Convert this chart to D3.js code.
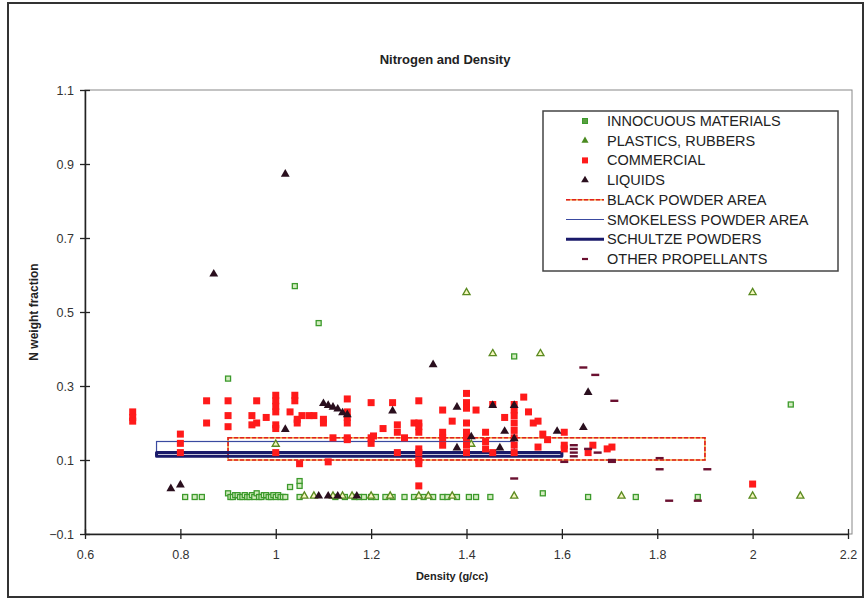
<!DOCTYPE html>
<html>
<head>
<meta charset="utf-8">
<script src="https://cdn.jsdelivr.net/npm/d3@7"></script>
<style>
  body { margin: 0; background: #fff; }
  svg { font-family: "Liberation Sans", Arial, sans-serif; }
</style>
</head>
<body>
<svg id="chart" width="868" height="601"></svg>
<script>
// ---- data ----
const xTicks = [0.6, 0.8, 1.0, 1.2, 1.4, 1.6, 1.8, 2.0, 2.2];
const yTicks = [-0.1, 0.1, 0.3, 0.5, 0.7, 0.9, 1.1];

const innocuous = [
  [0.81, 0], [0.83, 0], [0.845, 0], [0.9, 0.32], [0.9, 0.01], [0.905, 0], [0.91, 0], [0.915, 0.005],
  [0.92, 0.005], [0.925, 0], [0.93, 0], [0.935, 0.005], [0.94, 0], [0.945, 0], [0.95, 0.005],
  [0.955, 0], [0.96, 0.01], [0.965, 0], [0.97, 0], [0.975, 0.005], [0.98, 0.005], [0.985, 0],
  [0.99, 0], [0.995, 0.005], [1.0, 0], [1.005, 0.005], [1.01, 0], [1.015, 0], [1.02, 0],
  [1.03, 0.027], [1.05, 0.043], [1.05, 0.03], [1.04, 0.57], [1.09, 0.47], [1.05, 0],
  [1.125, 0], [1.145, 0], [1.165, 0], [1.175, 0], [1.185, 0], [1.2, 0], [1.21, 0], [1.23, 0],
  [1.245, 0], [1.27, 0], [1.29, 0], [1.31, 0], [1.33, 0], [1.35, 0], [1.36, 0], [1.38, 0],
  [1.405, 0], [1.42, 0], [1.45, 0], [1.5, 0.38], [1.56, 0.01], [1.655, 0], [1.755, 0],
  [1.885, 0], [2.08, 0.25]
];

const plastics = [
  [1.0, 0.14], [1.41, 0.14], [1.4, 0.55], [2.0, 0.55], [1.455, 0.385], [1.555, 0.385],
  [1.06, 0], [1.08, 0], [1.12, 0], [1.14, 0], [1.16, 0], [1.2, 0], [1.24, 0], [1.3, 0],
  [1.32, 0], [1.37, 0], [1.5, 0], [1.725, 0], [2.0, 0], [2.1, 0]
];

const commercial = [
  [0.7, 0.23], [0.7, 0.215], [0.7, 0.205],
  [0.8, 0.17], [0.8, 0.145], [0.8, 0.12],
  [0.855, 0.26], [0.855, 0.2],
  [0.9, 0.26], [0.9, 0.22], [0.9, 0.19],
  [0.95, 0.22], [0.95, 0.195], [0.96, 0.26], [0.96, 0.2], [0.98, 0.215],
  [1.0, 0.275], [1.0, 0.26], [1.0, 0.245], [1.0, 0.23], [1.0, 0.195], [1.0, 0.185], [1.0, 0.12],
  [1.03, 0.23], [1.04, 0.275], [1.04, 0.26], [1.045, 0.21], [1.045, 0.2], [1.055, 0.22],
  [1.05, 0.09], [1.07, 0.22], [1.08, 0.22], [1.1, 0.21], [1.1, 0.2], [1.11, 0.095], [1.12, 0.16],
  [1.15, 0.265], [1.15, 0.23], [1.15, 0.215], [1.15, 0.2], [1.15, 0.16], [1.15, 0.155],
  [1.2, 0.255], [1.2, 0.16], [1.2, 0.145], [1.205, 0.165], [1.225, 0.185], [1.245, 0.255],
  [1.255, 0.195], [1.255, 0.175], [1.255, 0.12], [1.27, 0.16], [1.29, 0.2],
  [1.3, 0.26], [1.3, 0.2], [1.3, 0.19], [1.3, 0.175], [1.3, 0.13], [1.3, 0.12], [1.3, 0.1],
  [1.3, 0.09], [1.3, 0.03],
  [1.35, 0.235], [1.35, 0.175], [1.35, 0.16], [1.35, 0.14], [1.37, 0.205],
  [1.4, 0.28], [1.4, 0.255], [1.4, 0.24], [1.4, 0.2], [1.4, 0.175], [1.4, 0.16], [1.4, 0.14],
  [1.4, 0.12], [1.42, 0.235], [1.44, 0.175], [1.44, 0.15], [1.44, 0.13], [1.455, 0.25],
  [1.455, 0.12], [1.48, 0.215],
  [1.5, 0.25], [1.5, 0.235], [1.5, 0.22], [1.5, 0.2], [1.5, 0.18], [1.5, 0.16], [1.5, 0.14],
  [1.5, 0.12], [1.52, 0.27], [1.53, 0.23], [1.54, 0.2], [1.55, 0.205], [1.56, 0.17],
  [1.57, 0.155], [1.55, 0.135], [1.605, 0.175], [1.605, 0.14], [1.605, 0.13],
  [1.655, 0.12], [1.665, 0.14], [1.695, 0.13], [1.705, 0.135], [2.0, 0.035]
];

const liquids = [
  [0.78, 0.02], [0.8, 0.03], [0.87, 0.6], [1.02, 0.87], [1.02, 0.18],
  [1.1, 0.25], [1.11, 0.245], [1.12, 0.24], [1.13, 0.235], [1.14, 0.225], [1.15, 0.22],
  [1.245, 0.23], [1.33, 0.355], [1.38, 0.24], [1.38, 0.13], [1.41, 0.16], [1.455, 0.245],
  [1.47, 0.13], [1.48, 0.175], [1.5, 0.245], [1.5, 0.155], [1.59, 0.175], [1.645, 0.185],
  [1.655, 0.28], [1.09, 0], [1.11, 0], [1.13, 0], [1.17, 0]
];

const propellants = [
  [1.5, 0.05], [1.645, 0.35], [1.67, 0.33], [1.71, 0.26], [1.625, 0.14], [1.625, 0.13],
  [1.625, 0.12], [1.625, 0.11], [1.605, 0.095], [1.655, 0.13], [1.675, 0.12], [1.705, 0.1],
  [1.705, 0.095], [1.805, 0.105], [1.805, 0.075], [1.905, 0.075], [1.825, -0.01], [1.885, -0.01]
];

// areas: [xMin, xMax, yMin, yMax]
const blackPowderArea = [0.9, 1.9, 0.1, 0.16];
const smokelessArea = [0.75, 1.5, 0.12, 0.15];
const schultzeArea = [0.75, 1.6, 0.11, 0.12];

const legendItems = [
  'INNOCUOUS MATERIALS', 'PLASTICS, RUBBERS', 'COMMERCIAL', 'LIQUIDS',
  'BLACK POWDER AREA', 'SMOKELESS POWDER AREA', 'SCHULTZE POWDERS', 'OTHER PROPELLANTS'
];

// ---- layout ----
const PLOT_LEFT = 85, PLOT_RIGHT = 848, PLOT_TOP = 90, PLOT_BOTTOM = 534;
const COLOR_TEXT = '#222';

const svg = d3.select('#chart');

const x = d3.scaleLinear().domain([0.6, 2.2]).range([PLOT_LEFT, PLOT_RIGHT]);
const y = d3.scaleLinear().domain([-0.1, 1.1]).range([PLOT_BOTTOM, PLOT_TOP]);

// outer chart frame
svg.append('rect')
  .attr('x', 8).attr('y', 3).attr('width', 855).attr('height', 594)
  .attr('fill', '#fff').attr('stroke', '#333').attr('stroke-width', 2);

// plot area frame
svg.append('rect')
  .attr('x', PLOT_LEFT).attr('y', PLOT_TOP)
  .attr('width', PLOT_RIGHT - PLOT_LEFT + 4).attr('height', PLOT_BOTTOM - PLOT_TOP)
  .attr('fill', 'none').attr('stroke', '#888').attr('stroke-width', 1);

// title and axis titles
svg.append('text')
  .attr('x', 445).attr('y', 64).attr('text-anchor', 'middle')
  .attr('font-size', 13).attr('font-weight', 'bold').attr('fill', COLOR_TEXT)
  .text('Nitrogen and Density');

svg.append('text')
  .attr('transform', 'translate(38,312) rotate(-90)').attr('text-anchor', 'middle')
  .attr('font-size', 12).attr('font-weight', 'bold').attr('fill', COLOR_TEXT)
  .text('N weight fraction');

svg.append('text')
  .attr('x', 452).attr('y', 580).attr('text-anchor', 'middle')
  .attr('font-size', 11).attr('font-weight', 'bold').attr('fill', COLOR_TEXT)
  .text('Density (g/cc)');

// axes with ticks crossing the axis line
const yAxis = svg.append('g')
  .attr('transform', 'translate(' + PLOT_LEFT + ',0)')
  .call(d3.axisLeft(y).tickValues(yTicks).tickSizeInner(5).tickSizeOuter(0).tickPadding(6)
    .tickFormat(d => d3.format('.1f')(d)));

const xAxis = svg.append('g')
  .attr('transform', 'translate(0,' + PLOT_BOTTOM + ')')
  .call(d3.axisBottom(x).tickValues(xTicks).tickSizeInner(5).tickSizeOuter(0).tickPadding(11)
    .tickFormat(d => d3.format('~g')(d)));

yAxis.selectAll('.tick line').attr('x1', 5);
xAxis.selectAll('.tick line').attr('y1', -5);
[yAxis, xAxis].forEach(function (ax) {
  ax.select('.domain').attr('stroke', '#222').attr('stroke-width', 1.5);
  ax.selectAll('.tick line').attr('stroke', '#222').attr('stroke-width', 1.3);
  ax.selectAll('.tick text').attr('font-size', 12.5).attr('fill', '#333')
    .attr('font-family', '"Liberation Sans", Arial, sans-serif');
});

// areas
function areaRect(a) {
  return {
    x: x(a[0]), y: y(a[3]), w: x(a[1]) - x(a[0]), h: y(a[2]) - y(a[3])
  };
}

const bp = areaRect(blackPowderArea);
svg.append('rect')
  .attr('x', bp.x).attr('y', bp.y).attr('width', bp.w).attr('height', bp.h)
  .attr('fill', 'none').attr('stroke', '#f0a040').attr('stroke-width', 1.6);
svg.append('rect')
  .attr('x', bp.x).attr('y', bp.y).attr('width', bp.w).attr('height', bp.h)
  .attr('fill', 'none').attr('stroke', '#e02020').attr('stroke-width', 1.6)
  .attr('stroke-dasharray', '4,2');

const sm = areaRect(smokelessArea);
svg.append('rect')
  .attr('x', sm.x).attr('y', sm.y).attr('width', sm.w).attr('height', sm.h)
  .attr('fill', 'none').attr('stroke', '#3a4aa0').attr('stroke-width', 1.2);

const sc = areaRect(schultzeArea);
svg.append('rect')
  .attr('x', sc.x).attr('y', sc.y).attr('width', sc.w).attr('height', sc.h)
  .attr('fill', 'none').attr('stroke', '#1a1a6a').attr('stroke-width', 3)
  .attr('stroke-linejoin', 'round');

// markers
const g = svg.append('g');
const tri = d3.symbol().type(d3.symbolTriangle);

g.selectAll('.inn').data(innocuous).join('rect')
  .attr('x', d => x(d[0]) - 2.5).attr('y', d => y(d[1]) - 2.5)
  .attr('width', 5).attr('height', 5)
  .attr('fill', '#d4ecc0').attr('stroke', '#3c9a2c').attr('stroke-width', 1.3);

g.selectAll('.pla').data(plastics).join('path')
  .attr('d', tri.size(22))
  .attr('transform', d => 'translate(' + x(d[0]) + ',' + (y(d[1]) - 1) + ')')
  .attr('fill', '#f6f6c0').attr('stroke', '#5a8a20').attr('stroke-width', 1.3);

g.selectAll('.com').data(commercial).join('rect')
  .attr('x', d => x(d[0]) - 3.5).attr('y', d => y(d[1]) - 3.5)
  .attr('width', 7).attr('height', 7)
  .attr('fill', '#ff1a1a');

g.selectAll('.liq').data(liquids).join('path')
  .attr('d', tri.size(34))
  .attr('transform', d => 'translate(' + x(d[0]) + ',' + (y(d[1]) - 1) + ')')
  .attr('fill', '#2a0f1e');

g.selectAll('.pro').data(propellants).join('rect')
  .attr('x', d => x(d[0]) - 4).attr('y', d => y(d[1]) - 1.2)
  .attr('width', 8).attr('height', 2.4)
  .attr('fill', '#6a1030');

// legend
const LEG_X = 543, LEG_Y = 111, LEG_W = 295, LEG_H = 160, ROW = 19.7;
const leg = svg.append('g');
leg.append('rect')
  .attr('x', LEG_X).attr('y', LEG_Y).attr('width', LEG_W).attr('height', LEG_H)
  .attr('fill', '#fff').attr('stroke', '#444').attr('stroke-width', 1.5);

legendItems.forEach(function (name, i) {
  const cy = LEG_Y + 10 + i * ROW;
  const mx = 585;
  if (i === 0) {
    leg.append('rect').attr('x', mx - 2.5).attr('y', cy - 2.5).attr('width', 5).attr('height', 5)
      .attr('fill', '#5aa040').attr('stroke', '#3c9a2c');
  } else if (i === 1) {
    leg.append('path').attr('d', tri.size(22)).attr('transform', 'translate(' + mx + ',' + cy + ')')
      .attr('fill', '#4a8a20');
  } else if (i === 2) {
    leg.append('rect').attr('x', mx - 3).attr('y', cy - 3).attr('width', 6).attr('height', 6)
      .attr('fill', '#ff1a1a');
  } else if (i === 3) {
    leg.append('path').attr('d', tri.size(26)).attr('transform', 'translate(' + mx + ',' + cy + ')')
      .attr('fill', '#2a0f1e');
  } else if (i === 4) {
    leg.append('line').attr('x1', 566).attr('x2', 604).attr('y1', cy).attr('y2', cy)
      .attr('stroke', '#f0a040').attr('stroke-width', 1.5);
    leg.append('line').attr('x1', 566).attr('x2', 604).attr('y1', cy).attr('y2', cy)
      .attr('stroke', '#e02020').attr('stroke-width', 1.5).attr('stroke-dasharray', '4,2');
  } else if (i === 5) {
    leg.append('line').attr('x1', 566).attr('x2', 604).attr('y1', cy).attr('y2', cy)
      .attr('stroke', '#3a4aa0').attr('stroke-width', 1.2);
  } else if (i === 6) {
    leg.append('line').attr('x1', 566).attr('x2', 604).attr('y1', cy).attr('y2', cy)
      .attr('stroke', '#1a1a6a').attr('stroke-width', 3);
  } else {
    leg.append('rect').attr('x', mx - 3).attr('y', cy - 1).attr('width', 6).attr('height', 2.2)
      .attr('fill', '#6a1030');
  }
  leg.append('text')
    .attr('x', 607).attr('y', cy).attr('dominant-baseline', 'central')
    .attr('font-size', 14.5).attr('fill', COLOR_TEXT)
    .text(name);
});
</script>
</body>
</html>
